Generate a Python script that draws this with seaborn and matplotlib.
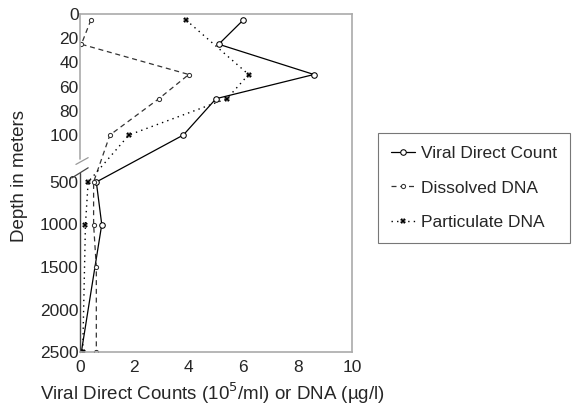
import numpy as np
import pandas as pd
import seaborn as sns
import matplotlib.pyplot as plt

# depth profiles (m) and values (10^5/ml or ug/l)
viral_depth = [5, 25, 50, 70, 100, 500, 1000, 2500]
viral_val = [6.0, 5.1, 8.6, 5.0, 3.8, 0.6, 0.8, 0.05]

dissolved_depth = [5, 25, 50, 70, 100, 500, 1000, 1500, 2500]
dissolved_val = [0.4, 0.05, 4.0, 2.9, 1.1, 0.5, 0.5, 0.6, 0.6]

particulate_depth = [5, 50, 70, 100, 500, 1000, 2500]
particulate_val = [3.9, 6.2, 5.4, 1.8, 0.3, 0.2, 0.1]

depth_ticks = [0, 20, 40, 60, 80, 100, 500, 1000, 1500, 2000, 2500]
x_ticks = [0, 2, 4, 6, 8, 10]

# broken depth axis: stretched 0-100 m, compressed 500-2500 m
knots_d = [0, 100, 500, 2500]
knots_y = [0, 121, 168, 338]


def fwd(d):
    return np.interp(d, knots_d, knots_y)


def inv(v):
    return np.interp(v, knots_y, knots_d)


sns.set_style('white')
plt.rcParams['font.family'] = ['Liberation Sans', 'DejaVu Sans']

fig = plt.figure(figsize=(5.78, 4.08), dpi=100)
ax = fig.add_axes([80 / 578, 1 - 352 / 408, 272 / 578, 338 / 408])
ax.set_yscale('function', functions=(fwd, inv))

viral = pd.DataFrame({'depth': viral_depth, 'val': viral_val})
dissolved = pd.DataFrame({'depth': dissolved_depth, 'val': dissolved_val})
partic = pd.DataFrame({'depth': particulate_depth, 'val': particulate_val})

sns.lineplot(data=viral, x='val', y='depth', sort=False, estimator=None,
             color='black', linewidth=0.9, marker='o', markersize=4,
             markerfacecolor='white', markeredgecolor='black',
             label='Viral Direct Count', ax=ax)
sns.lineplot(data=dissolved, x='val', y='depth', sort=False, estimator=None,
             color='#333333', linewidth=0.9, dashes=(4, 3), marker='o',
             markersize=3, markerfacecolor='white', markeredgecolor='#333333',
             label='Dissolved DNA', ax=ax)
sns.lineplot(data=partic, x='val', y='depth', sort=False, estimator=None,
             color='black', linewidth=1.0, linestyle=(0, (1, 3)), marker='X',
             markersize=4, markeredgewidth=0, label='Particulate DNA', ax=ax)

ax.set_xlim(0, 10)
ax.set_ylim(2500, 0)
ax.set_xticks(x_ticks)
ax.set_yticks(depth_ticks)
ax.set_yticklabels([str(t) for t in depth_ticks])
ax.minorticks_off()
ax.tick_params(length=0, labelsize=12.5)
ax.tick_params(axis='y', pad=1)
ax.tick_params(axis='x', pad=6)

for s in ['top', 'right', 'bottom']:
    ax.spines[s].set_color('#aaaaaa')
    ax.spines[s].set_linewidth(1.2)
ax.spines['left'].set_visible(False)

# left spine drawn in two pieces around the break
ax.plot([0, 0], [1, 0.57], transform=ax.transAxes, color='#aaaaaa',
        lw=1.2, clip_on=False)
ax.plot([0, 0], [0.53, 0], transform=ax.transAxes, color='#444444',
        lw=1.0, clip_on=False)
ax.plot([-0.015, 0.03], [0.555, 0.575], transform=ax.transAxes,
        color='#999999', lw=0.9, clip_on=False)
ax.plot([-0.03, 0.03], [0.515, 0.545], transform=ax.transAxes,
        color='#444444', lw=0.9, clip_on=False)

ax.set_xlabel('Viral Direct Counts (10$^5$/ml) or DNA (\u00b5g/l)',
              fontsize=13.5)
ax.xaxis.set_label_coords(0.485, -0.085)
ax.set_ylabel('Depth in meters', fontsize=13.5)
ax.yaxis.set_label_coords(-0.19, 0.52)

leg = ax.legend(loc='center left', bbox_to_anchor=(378 / 578, 1 - 188 / 408),
                bbox_transform=fig.transFigure, borderaxespad=0,
                frameon=True, fancybox=False,
                fontsize=12.5, handlelength=1.4, handletextpad=0.3,
                labelspacing=1.1, borderpad=0.75, edgecolor='#555555')
leg.get_frame().set_linewidth(0.8)

fig.savefig('out.png', dpi=100)
